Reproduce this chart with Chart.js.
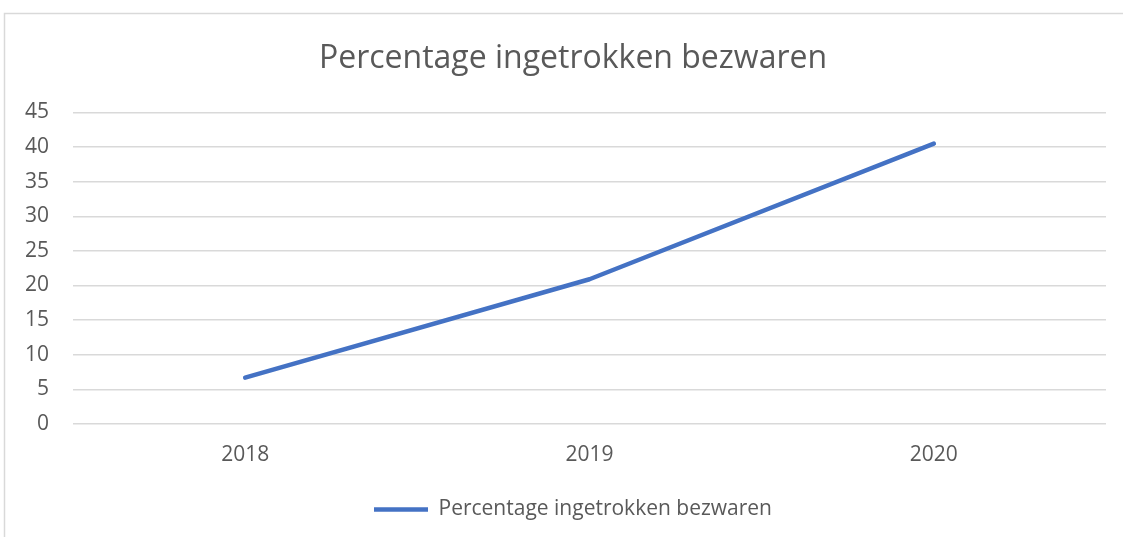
<!DOCTYPE html>
<html>
<head>
<meta charset="utf-8">
<script src="https://cdn.jsdelivr.net/npm/chart.js@4/dist/chart.umd.min.js"></script>
<style>
  html, body { margin: 0; padding: 0; background: #ffffff; }
  #wrap { position: relative; width: 1123px; height: 537px; }
</style>
</head>
<body>
<div id="wrap"><canvas id="c" width="1123" height="537"></canvas></div>
<script>
const categories = ['2018', '2019', '2020'];
const seriesName = 'Percentage ingetrokken bezwaren';
const seriesValues = [6.7, 20.9, 40.5];
const yTicks = [0, 5, 10, 15, 20, 25, 30, 35, 40, 45];

const FONT = "'Open Sans', 'Noto Sans', sans-serif";
const TEXT = '#595959';
const GRID = '#d9d9d9';
const BLUE = '#4472C4';

const borderPlugin = {
  id: 'outerBorder',
  beforeDraw(chart) {
    const ctx = chart.ctx;
    ctx.save();
    ctx.fillStyle = '#ffffff';
    ctx.fillRect(0, 0, chart.width, chart.height);
    ctx.strokeStyle = GRID;
    ctx.lineWidth = 1.5;
    ctx.strokeRect(4.5, 13.5, chart.width + 20, chart.height + 20);
    ctx.restore();
  }
};

// The original chart frame extends past the right edge, so its title and
// legend are centred ~20px right of the visible centre.
const shiftPlugin = {
  id: 'centreShift',
  afterLayout(chart) {
    const dx = 20;
    [chart.titleBlock, chart.legend].forEach(b => {
      if (b) { b.left += dx; b.right += dx; }
    });
  }
};

new Chart(document.getElementById('c'), {
  type: 'line',
  data: {
    labels: categories,
    datasets: [{
      label: seriesName,
      data: seriesValues,
      borderColor: BLUE,
      backgroundColor: BLUE,
      borderWidth: 4.5,
      borderCapStyle: 'round',
      borderJoinStyle: 'round',
      pointRadius: 0,
      pointHoverRadius: 0,
      tension: 0,
      fill: false
    }]
  },
  options: {
    responsive: false,
    animation: false,
    devicePixelRatio: 1,
    layout: { padding: { left: 0, right: 17, top: 0, bottom: 7 } },
    plugins: {
      title: {
        display: true,
        text: seriesName,
        color: TEXT,
        font: { family: FONT, size: 32, weight: 'normal' },
        padding: { top: 40, bottom: 34 }
      },
      legend: {
        display: true,
        position: 'bottom',
        labels: {
          usePointStyle: true,
          pointStyle: 'line',
          pointStyleWidth: 54,
          boxHeight: 16,
          color: TEXT,
          font: { family: FONT, size: 21 },
          padding: 15
        }
      },
      tooltip: { enabled: false }
    },
    scales: {
      x: {
        offset: true,
        grid: { display: false, drawTicks: false },
        border: { display: false },
        ticks: { color: TEXT, font: { family: FONT, size: 21 }, padding: 18 },
        afterFit(scale) { scale.height = 60; }
      },
      y: {
        min: 0,
        max: 45,
        afterBuildTicks(scale) { scale.ticks = yTicks.map(v => ({ value: v })); },
        grid: { color: GRID, lineWidth: 1.5, drawTicks: false },
        border: { display: false },
        ticks: { color: TEXT, font: { family: FONT, size: 21 }, padding: 24 },
        afterFit(scale) { scale.width = 73; }
      }
    }
  },
  plugins: [borderPlugin, shiftPlugin]
});
</script>
</body>
</html>
